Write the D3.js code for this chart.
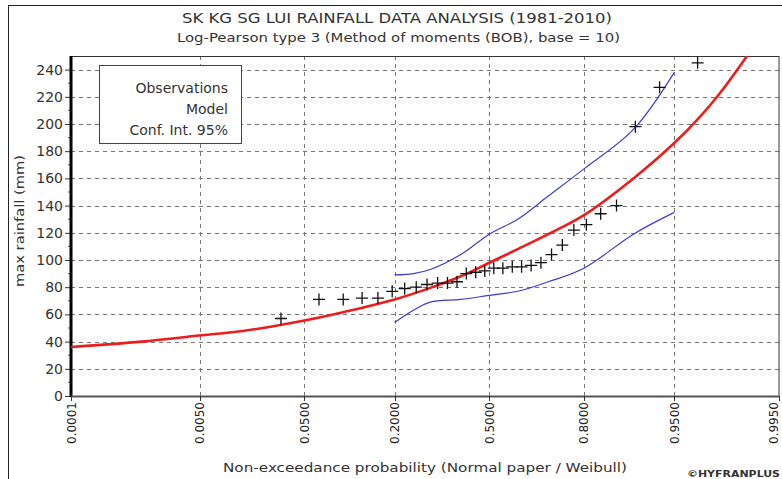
<!DOCTYPE html>
<html>
<head>
<meta charset="utf-8">
<script src="https://cdn.jsdelivr.net/npm/d3@7"></script>
<style>
  body { margin: 0; background: #fff; }
  text { font-family: "DejaVu Sans", "Liberation Sans", Arial, sans-serif; }
</style>
</head>
<body>
<div id="chart-container"></div>
<script>
// chart data

const xTickProbs = [0.0001, 0.005, 0.05, 0.2, 0.5, 0.8, 0.95, 0.995];
const xTickLabels = ["0.0001", "0.0050", "0.0500", "0.2000", "0.5000", "0.8000", "0.9500", "0.9950"];
const yTicks = [0, 20, 40, 60, 80, 100, 120, 140, 160, 180, 200, 220, 240];

// observations (Weibull plotting positions)
const obsProb = [0.032, 0.065, 0.097, 0.129, 0.161, 0.194, 0.226, 0.258, 0.290, 0.323,
                 0.355, 0.387, 0.419, 0.452, 0.484, 0.516, 0.548, 0.581, 0.613, 0.645,
                 0.677, 0.710, 0.742, 0.774, 0.806, 0.839, 0.871, 0.903, 0.935, 0.968];
const obsRain = [57, 71, 71, 72, 72, 77, 79, 80, 82, 83,
                 83, 84, 90, 91, 92, 94, 94, 95, 95, 96,
                 98, 104, 111, 122, 126, 134, 140, 198, 227, 245];

// fitted model (Log-Pearson type 3)
const modelProb = [0.0001, 0.001, 0.005, 0.01, 0.02, 0.05, 0.1, 0.2, 0.3, 0.4,
                   0.5, 0.6, 0.7, 0.8, 0.9, 0.95, 0.97, 0.98, 0.99];
const modelRain = [36, 40, 44.5, 46.5, 49.5, 55.5, 62, 71, 79.5, 88,
                   98, 108, 119, 133, 160, 186, 206, 223, 254];

// 95% confidence interval
const ciProb = [0.2, 0.25, 0.3, 0.4, 0.5, 0.6, 0.7, 0.8, 0.9, 0.95];
const ciUpper = [89, 90, 93, 104, 119, 130, 147, 167, 196, 238];
const ciLower = [54, 63, 69, 71, 74, 77, 84, 94, 119, 135];

// layout

const W = 782, H = 479;
const plot = { left: 71, top: 56, right: 779, bottom: 396 };

// inverse normal cdf (normal probability paper)
function probit(p) {
  const a = [-39.69683028665376, 220.9460984245205, -275.9285104469687, 138.3577518672690, -30.66479806614716, 2.506628277459239];
  const b = [-54.47609879822406, 161.5858368580409, -155.6989798598866, 66.80131188771972, -13.28068155288572];
  const c = [-0.007784894002430293, -0.3223964580411365, -2.400758277161838, -2.549732539343734, 4.374664141464968, 2.938163982698783];
  const d = [0.007784695709041462, 0.3224671290700398, 2.445134137142996, 3.754408661907416];
  const pl = 0.02425;
  let q, r;
  if (p < pl) {
    q = Math.sqrt(-2 * Math.log(p));
    return (((((c[0]*q+c[1])*q+c[2])*q+c[3])*q+c[4])*q+c[5]) / ((((d[0]*q+d[1])*q+d[2])*q+d[3])*q+1);
  } else if (p <= 1 - pl) {
    q = p - 0.5; r = q * q;
    return (((((a[0]*r+a[1])*r+a[2])*r+a[3])*r+a[4])*r+a[5])*q / (((((b[0]*r+b[1])*r+b[2])*r+b[3])*r+b[4])*r+1);
  } else {
    q = Math.sqrt(-2 * Math.log(1 - p));
    return -(((((c[0]*q+c[1])*q+c[2])*q+c[3])*q+c[4])*q+c[5]) / ((((d[0]*q+d[1])*q+d[2])*q+d[3])*q+1);
  }
}

const zScale = d3.scaleLinear()
    .domain([probit(0.0001), probit(0.995)])
    .range([plot.left, plot.right]);
const x = p => zScale(probit(p));

const y = d3.scaleLinear()
    .domain([0, 250])
    .range([plot.bottom, plot.top]);

const svg = d3.select("#chart-container")
  .append("svg")
    .attr("width", W)
    .attr("height", H);

// outer frame
svg.append("rect")
    .attr("x", 8.5).attr("y", 5.5)
    .attr("width", W).attr("height", H)
    .attr("fill", "none")
    .attr("stroke", "#222")
    .attr("stroke-width", 1);

// titles (pinned to the widths seen in the picture)
svg.append("text")
    .attr("x", 182).attr("y", 23)
    .attr("font-size", 13.5)
    .attr("fill", "#333")
    .attr("textLength", 430)
    .attr("lengthAdjust", "spacingAndGlyphs")
    .text("SK KG SG LUI RAINFALL DATA ANALYSIS (1981-2010)");
svg.append("text")
    .attr("x", 177).attr("y", 42)
    .attr("font-size", 13)
    .attr("fill", "#333")
    .attr("textLength", 443)
    .attr("lengthAdjust", "spacingAndGlyphs")
    .text("Log-Pearson type 3 (Method of moments (BOB), base = 10)");

// grid
const grid = svg.append("g")
    .attr("stroke", "#777")
    .attr("stroke-width", 1)
    .attr("stroke-dasharray", "4,4");

grid.selectAll(".gy")
  .data(yTicks.filter(v => v > 0))
  .join("line")
    .attr("x1", plot.left).attr("x2", plot.right)
    .attr("y1", d => Math.round(y(d)) + 0.5)
    .attr("y2", d => Math.round(y(d)) + 0.5);

grid.selectAll(".gx")
  .data(xTickProbs.slice(1, -1))
  .join("line")
    .attr("x1", d => Math.round(x(d)) + 0.5)
    .attr("x2", d => Math.round(x(d)) + 0.5)
    .attr("y1", plot.top).attr("y2", plot.bottom);

// plot frame
svg.append("rect")
    .attr("x", plot.left).attr("y", plot.top + 0.5)
    .attr("width", plot.right - plot.left)
    .attr("height", plot.bottom - plot.top)
    .attr("fill", "none")
    .attr("stroke", "#333")
    .attr("stroke-width", 1);

// y axis
const yAxis = svg.append("g")
    .attr("transform", `translate(${plot.left},0)`)
    .call(d3.axisLeft(y).tickValues(yTicks).tickSize(6).tickPadding(2))
    .call(g => g.select(".domain").remove());
yAxis.selectAll("text")
    .attr("font-size", 14)
    .attr("fill", "#333")
    .style("font-family", "DejaVu Sans, Liberation Sans, Arial, sans-serif");
yAxis.selectAll("line").attr("stroke", "#333");

// minor y ticks
svg.append("g")
  .selectAll("line")
  .data(d3.range(10, 250, 20))
  .join("line")
    .attr("x1", plot.left - 3).attr("x2", plot.left)
    .attr("y1", d => y(d)).attr("y2", d => y(d))
    .attr("stroke", "#555");

svg.append("line")
    .attr("x1", plot.left).attr("x2", plot.left)
    .attr("y1", plot.top).attr("y2", plot.bottom + 1)
    .attr("stroke", "#000")
    .attr("stroke-width", 3);

// x axis
svg.append("line")
    .attr("x1", plot.left).attr("x2", plot.right)
    .attr("y1", plot.bottom + 0.5).attr("y2", plot.bottom + 0.5)
    .attr("stroke", "#555")
    .attr("stroke-width", 2);

const xt = svg.append("g");
xt.selectAll("line")
  .data(xTickProbs)
  .join("line")
    .attr("x1", d => Math.round(x(d)) + 0.5)
    .attr("x2", d => Math.round(x(d)) + 0.5)
    .attr("y1", plot.bottom).attr("y2", plot.bottom + 5)
    .attr("stroke", "#333");
xt.selectAll("text")
  .data(xTickProbs)
  .join("text")
    .attr("transform", d => `translate(${Math.min(x(d) + 4.5, W - 4)},${plot.bottom + 6}) rotate(-90)`)
    .attr("text-anchor", "end")
    .attr("font-size", 12)
    .attr("fill", "#222")
    .text((d, i) => xTickLabels[i]);

// axis titles
svg.append("text")
    .attr("transform", "translate(24,287) rotate(-90)")
    .attr("font-size", 12)
    .attr("fill", "#333")
    .attr("textLength", 132)
    .attr("lengthAdjust", "spacingAndGlyphs")
    .text("max rainfall (mm)");
svg.append("text")
    .attr("x", 223).attr("y", 472)
    .attr("font-size", 13)
    .attr("fill", "#333")
    .attr("textLength", 404)
    .attr("lengthAdjust", "spacingAndGlyphs")
    .text("Non-exceedance probability (Normal paper / Weibull)");
svg.append("text")
    .attr("x", 687).attr("y", 477)
    .attr("font-size", 9.5)
    .attr("font-weight", "bold")
    .attr("fill", "#333")
    .attr("textLength", 93)
    .attr("lengthAdjust", "spacingAndGlyphs")
    .text("\u00A9HYFRANPLUS");

// clip to plot
svg.append("clipPath").attr("id", "clip")
  .append("rect")
    .attr("x", plot.left).attr("y", plot.top)
    .attr("width", plot.right - plot.left)
    .attr("height", plot.bottom - plot.top);

const body = svg.append("g").attr("clip-path", "url(#clip)");

const line = d3.line()
    .x(d => x(d[0]))
    .y(d => y(d[1]))
    .curve(d3.curveCatmullRom.alpha(0.5));

// confidence interval
body.append("path")
    .datum(ciProb.map((p, i) => [p, ciUpper[i]]))
    .attr("fill", "none")
    .attr("stroke", "#3b3bd6")
    .attr("stroke-width", 1.2)
    .attr("d", line);
body.append("path")
    .datum(ciProb.map((p, i) => [p, ciLower[i]]))
    .attr("fill", "none")
    .attr("stroke", "#3b3bd6")
    .attr("stroke-width", 1.2)
    .attr("d", line);

// model
body.append("path")
    .datum(modelProb.map((p, i) => [p, modelRain[i]]))
    .attr("fill", "none")
    .attr("stroke", "#ee1c1c")
    .attr("stroke-width", 2.6)
    .attr("d", line);

// observations as crosses
const s = 6;
body.append("g")
  .selectAll("path")
  .data(obsProb.map((p, i) => [p, obsRain[i]]))
  .join("path")
    .attr("d", d => {
      const cx = x(d[0]), cy = y(d[1]);
      return `M${cx - s},${cy}H${cx + s}M${cx},${cy - s}V${cy + s}`;
    })
    .attr("stroke", "#111")
    .attr("stroke-width", 1.3)
    .attr("fill", "none");

// legend
const lg = svg.append("g");
lg.append("rect")
    .attr("x", 99.5).attr("y", 65.5)
    .attr("width", 142).attr("height", 78)
    .attr("fill", "#fff")
    .attr("stroke", "#444");
lg.selectAll("text")
  .data(["Observations", "Model", "Conf. Int. 95%"])
  .join("text")
    .attr("x", 228)
    .attr("y", (d, i) => 93 + i * 21)
    .attr("text-anchor", "end")
    .attr("font-size", 14)
    .attr("fill", "#333")
    .text(d => d);
</script>
</body>
</html>
